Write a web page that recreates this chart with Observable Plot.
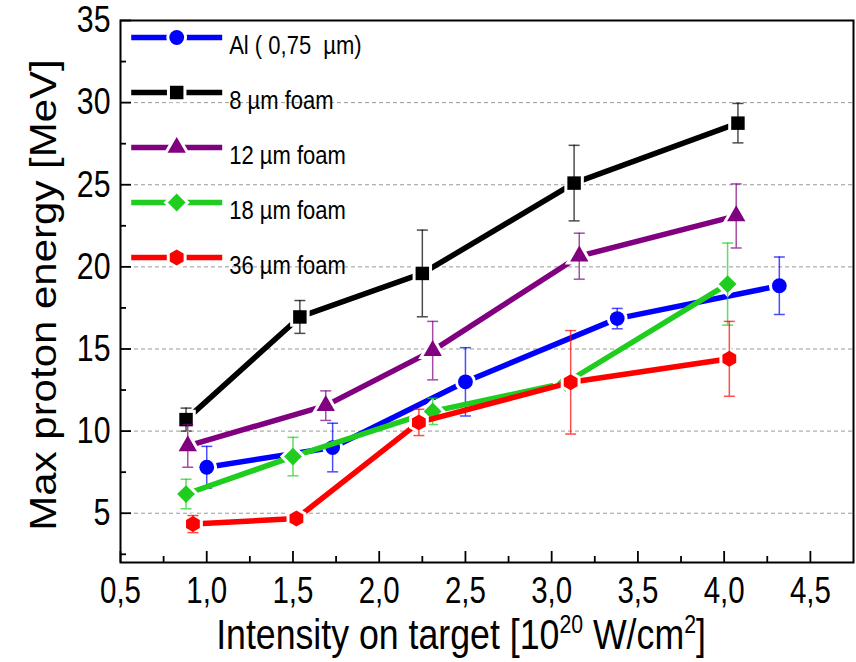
<!DOCTYPE html>
<html>
<head>
<meta charset="utf-8">
<script src="https://cdn.jsdelivr.net/npm/d3@7"></script>
<script src="https://cdn.jsdelivr.net/npm/@observablehq/plot@0.6"></script>
<style>
  html, body { margin: 0; padding: 0; background: #fff; }
  #chart { width: 856px; height: 662px; position: relative; }
  #chart > svg { position: absolute; left: 0; top: 0; }
  #chart > svg.legend { left: 120px; top: 20px; }
</style>
</head>
<body>
<div id="chart"></div>
<script>
// Series definitions
const seriesNames   = ["Al ( 0,75\u00a0 µm)", "8 µm foam", "12 µm foam", "18 µm foam", "36 µm foam"];
const seriesColors  = ["#0000ff", "#000000", "#800080", "#1ecd1e", "#ff0000"];
const seriesSymbols = ["circle", "square", "triangle", "diamond2", "hexagon"];
const seriesRadii   = [7.4, 7.6, 6.8, 8, 6.9];

// Intensity [1e20 W/cm2], max proton energy [MeV], error [MeV]
const intensityAl = [1.00, 1.73, 2.50, 3.38, 4.32];
const energyAl    = [7.8, 9.0, 13.0, 16.85, 18.85];
const errorAl     = [1.27, 1.48, 2.08, 0.62, 1.75];

const intensity8 = [0.88, 1.54, 2.25, 3.13, 4.08];
const energy8    = [10.7, 16.95, 19.6, 25.1, 28.75];
const error8     = [0.7, 1.0, 2.64, 2.3, 1.2];

const intensity12 = [0.89, 1.69, 2.31, 3.16, 4.07];
const energy12    = [9.1, 11.55, 14.9, 20.65, 23.1];
const error12     = [1.3, 0.9, 1.78, 1.4, 1.95];

const intensity18 = [0.88, 1.50, 2.31, 3.08, 4.02];
const energy18    = [6.17, 8.45, 11.2, 12.93, 18.95];
const error18     = [0.9, 1.17, 0.8, null, 2.5];

const intensity36 = [0.92, 1.52, 2.23, 3.11, 4.03];
const energy36    = [4.34, 4.68, 10.53, 12.97, 14.4];
const error36     = [0.52, null, 0.8, 3.15, 2.28];

// Axis ticks
const xMajorTicks = [0.5, 1.0, 1.5, 2.0, 2.5, 3.0, 3.5, 4.0, 4.5];
const xMinorTicks = [0.75, 1.25, 1.75, 2.25, 2.75, 3.25, 3.75, 4.25];
const yMajorTicks = [5, 10, 15, 20, 25, 30, 35];
const yMinorTicks = [2.5, 7.5, 12.5, 17.5, 22.5, 27.5, 32.5];
const yGridLines  = [5, 10, 15, 20, 25, 30];

const xDomain = [0.5, 4.75];
const yDomain = [2, 35];

const xTitle = ["Intensity on target [10", "20", " W/cm", "2", "]"];
const yTitle = "Max proton energy [MeV]";

const seriesData = [
  [intensityAl, energyAl, errorAl],
  [intensity8, energy8, error8],
  [intensity12, energy12, error12],
  [intensity18, energy18, error18],
  [intensity36, energy36, error36]
];

const W = 856, H = 662;
const mL = 120, mR = 3, mT = 20, mB = 100;
const innerW = W - mL - mR, innerH = H - mT - mB;
const fontFamily = "'Liberation Sans', Arial, sans-serif";

// Horizontal cap for error bars
const capSymbol = { draw(ctx) { ctx.moveTo(-5.5, 0); ctx.lineTo(5.5, 0); } };

const marks = [
  Plot.ruleY(yGridLines, { stroke: "#999", strokeWidth: 1, strokeDasharray: "4,3" })
];

seriesData.forEach(([xs, ys, es], i) => {
  const rows = xs.map((x, j) => ({ x, y: ys[j], err: es[j] }));
  const withErr = rows.filter(d => d.err != null);
  const color = seriesColors[i], symbol = seriesSymbols[i], r = seriesRadii[i];
  marks.push(
    Plot.line(rows, { x: "x", y: "y", stroke: color, strokeWidth: 5.5, strokeLinejoin: "round" }),
    Plot.dot(rows, { x: "x", y: "y", symbol, r, fill: "white", stroke: "white", strokeWidth: 6 }),
    Plot.ruleX(withErr, { x: "x", y1: d => d.y - d.err, y2: d => d.y + d.err, stroke: color, strokeWidth: 1.5, strokeOpacity: 0.7 }),
    Plot.dot(withErr, { x: "x", y: d => d.y + d.err, symbol: capSymbol, stroke: color, strokeWidth: 1.5, strokeOpacity: 0.7, fill: "none" }),
    Plot.dot(withErr, { x: "x", y: d => d.y - d.err, symbol: capSymbol, stroke: color, strokeWidth: 1.5, strokeOpacity: 0.7, fill: "none" }),
    Plot.dot(rows, { x: "x", y: "y", symbol, r, fill: color, stroke: "none" })
  );
});

// Inward ticks on bottom and left axes
marks.push(
  Plot.tickX(xMajorTicks, { x: d => d, insetTop: innerH - 11, stroke: "black", strokeWidth: 1.8 }),
  Plot.tickX(xMinorTicks, { x: d => d, insetTop: innerH - 6, stroke: "black", strokeWidth: 1.8 }),
  Plot.tickY(yMajorTicks, { y: d => d, insetRight: innerW - 11, stroke: "black", strokeWidth: 1.8 }),
  Plot.tickY(yMinorTicks, { y: d => d, insetRight: innerW - 6, stroke: "black", strokeWidth: 1.8 }),
  Plot.axisX(xMajorTicks, { tickSize: 0, tickPadding: 15, fontSize: 36, label: null,
    tickFormat: d => d.toFixed(1).replace(".", ",") }),
  Plot.axisY(yMajorTicks, { tickSize: 0, tickPadding: 10, fontSize: 37, label: null }),
  Plot.frame({ stroke: "black", strokeWidth: 2 })
);

const chart = Plot.plot({
  width: W, height: H,
  marginLeft: mL, marginRight: mR, marginTop: mT, marginBottom: mB,
  x: { domain: xDomain, label: null },
  y: { domain: yDomain, label: null },
  style: { fontFamily, background: "white", color: "black", overflow: "visible" },
  marks
});

// Legend drawn as its own small plot, laid over the top-left of the frame
const legendRows = seriesNames.map((name, i) => ({
  name, color: seriesColors[i], symbol: seriesSymbols[i], r: seriesRadii[i]
}));
const legendMarks = [];
legendRows.forEach(row => {
  legendMarks.push(
    Plot.link([row], { x1: () => 0, x2: () => 1, y1: "name", y2: "name", stroke: row.color, strokeWidth: 5.5 }),
    Plot.dot([row], { x: () => 0.5, y: "name", symbol: row.symbol, r: row.r, fill: "white", stroke: "white", strokeWidth: 6 }),
    Plot.dot([row], { x: () => 0.5, y: "name", symbol: row.symbol, r: row.r, fill: row.color, stroke: "none" })
  );
});
legendMarks.push(
  Plot.text(legendRows, { x: () => 1, y: "name", text: "name", textAnchor: "start", lineAnchor: "middle",
    dx: 7, dy: 8, fontSize: 25, fill: "black" })
);
const legend = Plot.plot({
  width: 300, height: 260,
  marginLeft: 0, marginRight: 0, marginTop: 0, marginBottom: 0,
  x: { domain: [0, 1], range: [10.7, 101.7], axis: null },
  y: { type: "point", domain: seriesNames, range: [16, 238.4], padding: 0, axis: null },
  style: { fontFamily, background: "transparent", overflow: "visible" },
  marks: legendMarks
});
legend.classList.add("legend");

const host = document.getElementById("chart");
host.appendChild(chart);
host.appendChild(legend);

// Narrow the horizontal texts slightly
function narrow(root, k) {
  root.querySelectorAll("text").forEach(t => {
    const len = t.getComputedTextLength();
    if (len > 0) {
      t.setAttribute("textLength", (len * k).toFixed(1));
      t.setAttribute("lengthAdjust", "spacingAndGlyphs");
    }
  });
}
narrow(chart, 0.82);
narrow(legend, 0.88);

const svg = d3.select(chart);

// X axis title with superscripts
const xt = svg.append("text")
  .attr("transform", `translate(461, 649) scale(0.85, 1)`)
  .attr("text-anchor", "middle")
  .attr("font-size", 42)
  .attr("fill", "black");
xt.append("tspan").text(xTitle[0]);
xt.append("tspan").attr("dy", -16).attr("font-size", 25).text(xTitle[1]);
xt.append("tspan").attr("dy", 16).text(xTitle[2]);
xt.append("tspan").attr("dy", -16).attr("font-size", 25).text(xTitle[3]);
xt.append("tspan").attr("dy", 16).text(xTitle[4]);

// Y axis title, rotated
svg.append("text")
  .attr("transform", `translate(56, ${mT + innerH / 2 + 4}) scale(0.88, 1) rotate(-90)`)
  .attr("text-anchor", "middle")
  .attr("font-size", 42)
  .attr("fill", "black")
  .text(yTitle);
</script>
</body>
</html>
